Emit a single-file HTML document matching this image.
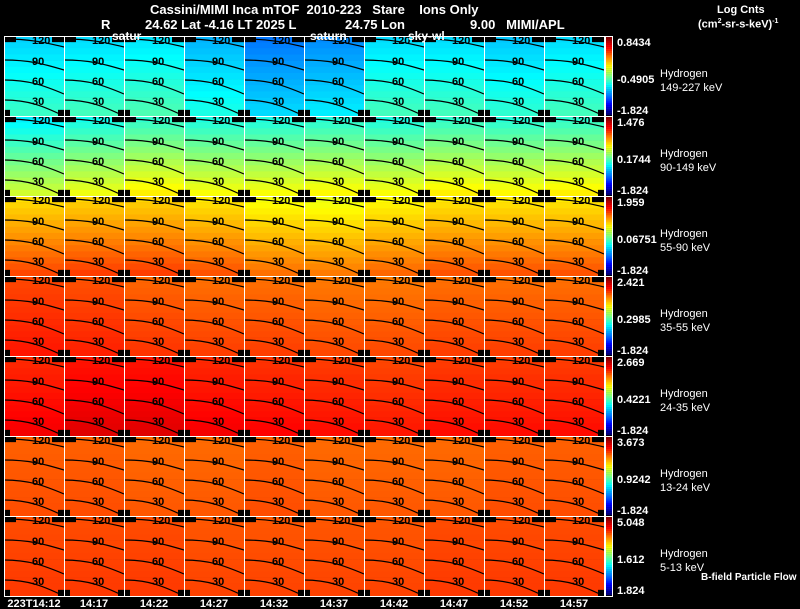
<!DOCTYPE html>
<html><head><meta charset="utf-8">
<style>
html,body{margin:0;padding:0;background:#000;}
body{width:800px;height:609px;overflow:hidden;position:relative;font-family:"Liberation Sans",sans-serif;color:#fff;}
.t{position:absolute;font-size:13px;font-weight:bold;white-space:nowrap;}
.s{position:absolute;font-size:11px;font-weight:bold;white-space:nowrap;}
</style></head>
<body>
<div class="t" style="left:150px;top:2px;">Cassini/MIMI Inca mTOF&nbsp; 2010-223&nbsp;&nbsp; Stare&nbsp;&nbsp;&nbsp; Ions Only</div>
<div class="t" style="left:101px;top:17px;">R</div>
<div class="t" style="left:145px;top:17px;">24.62 Lat -4.16 LT 2025 L</div>
<div class="t" style="left:345px;top:17px;">24.75 Lon</div>
<div class="t" style="left:470px;top:17px;">9.00&nbsp;&nbsp; MIMI/APL</div>
<div class="s" style="left:717px;top:4px;">Log Cnts</div>
<div class="s" style="left:698px;top:18px;">(cm<sup style="font-size:7px">2</sup>-sr-s-keV)<sup style="font-size:7px">-1</sup></div>
<div class="s" style="left:701px;top:572px;font-size:10px;">B-field Particle Flow</div>
<svg id="chart" width="800" height="609" style="position:absolute;left:0;top:0;"></svg>
<script>
const times=["223T14:12","14:17","14:22","14:27","14:32","14:37","14:42","14:47","14:52","14:57"];
const energies=["149-227 keV","90-149 keV","55-90 keV","35-55 keV","24-35 keV","13-24 keV","5-13 keV"];
const topTicks=["0.8434","1.476","1.959","2.421","2.669","3.673","5.048"];
const midTicks=["-0.4905","0.1744","0.06751","0.2985","0.4221","0.9242","1.612"];
const botTicks=["-1.824","-1.824","-1.824","-1.824","-1.824","-1.824","1.824"];
const panelMean=[
[0.38,0.39,0.40,0.35,0.29,0.31,0.39,0.39,0.37,0.39],
[0.47,0.50,0.53,0.51,0.51,0.52,0.51,0.53,0.52,0.53],
[0.73,0.74,0.74,0.72,0.69,0.68,0.70,0.72,0.72,0.72],
[0.83,0.82,0.80,0.79,0.79,0.78,0.78,0.79,0.79,0.79],
[0.86,0.88,0.88,0.86,0.85,0.84,0.83,0.84,0.84,0.84],
[0.79,0.79,0.78,0.78,0.79,0.78,0.78,0.78,0.79,0.79],
[0.81,0.81,0.81,0.80,0.80,0.80,0.80,0.81,0.81,0.81]];
const rowGrad=[0.10,0.22,0.15,0.05,0.05,0.02,0.02];
const contourLevels=["120","90","60","30"];
const contourBase=[3,24,44,64];
const contourDrop=[8,10,14,16];

const X0=4,Y0=36,PW=60,PH=80,NC=10,NR=13;
const svg=document.getElementById('chart');
const NS='http://www.w3.org/2000/svg';
function jet(v){v=Math.max(0,Math.min(1,v));
 const f=x=>Math.round(255*Math.max(0,Math.min(1,1.5-Math.abs(x))));
 return `rgb(${f(4*v-3)},${f(4*v-2)},${f(4*v-1)})`;}
function xScale(c){return X0+c*PW;}
function yScale(r){return Y0+r*PH;}
function mk(tag,attrs){const e=document.createElementNS(NS,tag);for(const k in attrs)e.setAttribute(k,attrs[k]);svg.appendChild(e);return e;}
const cw=PW/NC,ch=PH/NR;
for(let r=0;r<panelMean.length;r++){
 for(let c=0;c<panelMean[r].length;c++){
  const px=xScale(c),py=yScale(r);
  for(let i=0;i<NR;i++)for(let j=0;j<NC;j++){
   const black=(i===0&&(j<2||j>NC-3))||(i===NR-1&&(j===0||j===NC-1));
   const v=panelMean[r][c]+rowGrad[r]*(i/(NR-1)-0.5);
   const cell=mk('rect',{x:(px+j*cw).toFixed(2),y:(py+i*ch).toFixed(2),width:(cw+0.3).toFixed(2),height:(ch+0.3).toFixed(2),fill:black?'#000':jet(v)});
   
   
  }
  for(let k=0;k<contourLevels.length;k++){
   const y=py+contourBase[k],d=contourDrop[k];
   const p=mk('path',{d:`M${px},${y} C${px+25},${y} ${px+40},${y+d*0.4} ${px+PW},${y+d}`,stroke:'#000','stroke-width':1.2,fill:'none'});
   
   
   const t=mk('text',{x:px+28,y:y+5,'font-size':11,'font-weight':'bold','font-family':'Liberation Sans, sans-serif',fill:'#000'});
   t.textContent=contourLevels[k];
   
   
  }
  const fr=mk('rect',{x:px+0.5,y:py+0.5,width:PW,height:PH,fill:'none',stroke:'#fff','stroke-width':1});
  
  
 }
 const py=yScale(r);
 for(let i=0;i<40;i++){
  const s=mk('rect',{x:606,y:(py+1+i*1.95).toFixed(2),width:6,height:2.1,fill:jet(1-i/39)});
  
  
 }
 const cb=mk('rect',{x:605.5,y:py+0.5,width:7,height:PH,fill:'none',stroke:'#fff'});
 
 
 const lbl=[[topTicks[r],py+10,617],[midTicks[r],py+47,617],[botTicks[r],py+78,617]];
 for(const [s,y,x] of lbl){const t=mk('text',{x:x,y:y,'font-size':11,'font-weight':'bold','font-family':'Liberation Sans, sans-serif',fill:'#fff'});t.textContent=s;
  
  }
 const h=mk('text',{x:660,y:py+41,'font-size':11,'font-family':'Liberation Sans, sans-serif',fill:'#fff'});h.textContent='Hydrogen';
 
 
 const e=mk('text',{x:660,y:py+55,'font-size':11,'font-family':'Liberation Sans, sans-serif',fill:'#fff'});e.textContent=energies[r];
 
 
}
times.forEach((s,c)=>{const t=mk('text',{x:xScale(c)+PW/2,y:607,'text-anchor':'middle','font-size':11,'font-weight':'bold','font-family':'Liberation Sans, sans-serif',fill:'#fff'});t.textContent=s;
 
 });
[["satur",112],["saturn",310],["sky-wl",408]].forEach(([s,x])=>{const t=mk('text',{x:x,y:40,'font-size':12,'font-weight':'bold','font-family':'Liberation Sans, sans-serif',fill:'#fff'});t.textContent=s;
 
 });
</script>
</body></html>
